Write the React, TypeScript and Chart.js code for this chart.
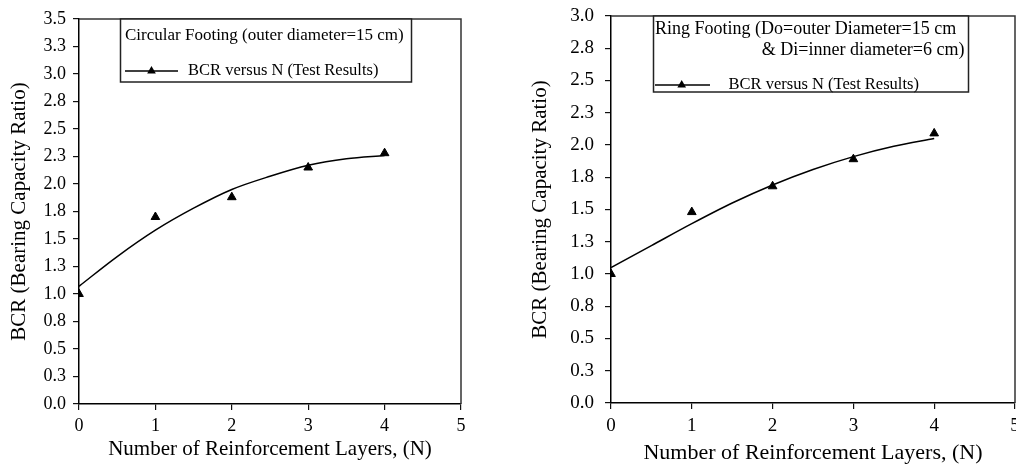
import React, { useEffect, useRef } from "react";
import { Chart, registerables } from "chart.js";

Chart.register(...registerables);

// ---------------- data ----------------
const xTickValues = [0, 1, 2, 3, 4, 5];
const xTickLabels = ["0", "1", "2", "3", "4", "5"];
const circularYTickLabels = ["0.0", "0.3", "0.5", "0.8", "1.0", "1.3", "1.5", "1.8", "2.0", "2.3", "2.5", "2.8", "3.0", "3.3", "3.5"];
const ringYTickLabels = ["0.0", "0.3", "0.5", "0.8", "1.0", "1.3", "1.5", "1.8", "2.0", "2.3", "2.5", "2.8", "3.0"];

const layersN = [0, 1, 2, 3, 4];
const circularBCR = [1.0, 1.7, 1.88, 2.15, 2.28];
const ringBCR = [1.0, 1.48, 1.68, 1.89, 2.09];

const fitN = [0, 0.5, 1, 1.5, 2, 2.5, 3, 3.5, 4];
const circularFitBCR = [1.07, 1.34, 1.58, 1.78, 1.95, 2.07, 2.17, 2.23, 2.26];
const ringFitBCR = [1.05, 1.22, 1.39, 1.55, 1.69, 1.81, 1.91, 1.99, 2.05];

const circularLegendTitle = ["Circular Footing (outer diameter=15 cm)"];
const ringLegendTitle = ["Ring Footing (Do=outer Diameter=15 cm", "& Di=inner diameter=6 cm)"];
const seriesLabel = "BCR versus N (Test Results)";
const xAxisTitle = "Number of Reinforcement Layers, (N)";
const yAxisTitle = "BCR (Bearing Capacity Ratio)";

const FONT = "'Liberation Serif', 'Times New Roman', 'DejaVu Serif', serif";

// ---------------- plugins ----------------
const frameBoxPlugin = {
  id: "frameBox",
  afterDraw(chart: any) {
    const { ctx, chartArea } = chart;
    ctx.save();
    ctx.strokeStyle = "#333";
    ctx.lineWidth = 1.5;
    ctx.beginPath();
    ctx.moveTo(chartArea.left, chartArea.top);
    ctx.lineTo(chartArea.right, chartArea.top);
    ctx.lineTo(chartArea.right, chartArea.bottom);
    ctx.stroke();
    ctx.restore();
  },
};

function drawTriangle(ctx: CanvasRenderingContext2D, x: number, y: number, r: number) {
  ctx.beginPath();
  for (let k = 0; k < 3; k++) {
    const a = (k * 2 * Math.PI) / 3;
    const px = x + Math.sin(a) * r;
    const py = y - Math.cos(a) * r;
    if (k === 0) ctx.moveTo(px, py);
    else ctx.lineTo(px, py);
  }
  ctx.closePath();
  ctx.fill();
}

const legendBoxPlugin = {
  id: "legendBox",
  afterDraw(chart: any, _args: any, o: any) {
    if (!o || !o.box) return;
    const ctx: CanvasRenderingContext2D = chart.ctx;
    ctx.save();
    ctx.fillStyle = "#fff";
    ctx.fillRect(o.box.x, o.box.y, o.box.w, o.box.h);
    ctx.strokeStyle = "#222";
    ctx.lineWidth = 1.5;
    ctx.strokeRect(o.box.x, o.box.y, o.box.w, o.box.h);
    ctx.fillStyle = "#000";
    ctx.textBaseline = "alphabetic";
    ctx.font = `${o.titleSize}px ${FONT}`;
    o.titleLines.forEach((ln: any, i: number) => {
      ctx.textAlign = ln.align;
      ctx.fillText(o.titleText[i], ln.x, ln.y);
    });
    // sample
    ctx.strokeStyle = "#000";
    ctx.lineWidth = 1.5;
    ctx.beginPath();
    ctx.moveTo(o.sample.x1, o.sample.y);
    ctx.lineTo(o.sample.x2, o.sample.y);
    ctx.stroke();
    drawTriangle(ctx, o.sample.mx, o.sample.y, 5);
    ctx.textAlign = "left";
    ctx.font = `${o.labelSize}px ${FONT}`;
    ctx.fillText(chart.data.datasets[0].label, o.label.x, o.label.y);
    ctx.restore();
  },
};

// ---------------- config ----------------
function buildConfig(p: any) {
  return {
    type: "scatter",
    data: {
      datasets: [
        {
          label: seriesLabel,
          data: layersN.map((x, i) => ({ x, y: p.bcr[i] })),
          showLine: false,
          pointStyle: "triangle",
          pointRadius: 5,
          pointBorderWidth: 1,
          pointBackgroundColor: "#000",
          pointBorderColor: "#000",
          borderColor: "#000",
          backgroundColor: "#000",
        },
        {
          label: "fit",
          data: fitN.map((x, i) => ({ x, y: p.fit[i] })),
          showLine: true,
          pointRadius: 0,
          borderColor: "#000",
          borderWidth: 1.5,
          tension: 0.4,
          cubicInterpolationMode: "monotone",
          fill: false,
        },
      ],
    },
    options: {
      animation: false,
      responsive: false,
      devicePixelRatio: 1,
      layout: { padding: p.padding },
      plugins: {
        legend: { display: false },
        tooltip: { enabled: false },
        legendBox: p.legend,
      },
      scales: {
        x: {
          type: "linear",
          min: 0,
          max: 5,
          afterBuildTicks: (s: any) => {
            s.ticks = xTickValues.map((v) => ({ value: v }));
          },
          ticks: {
            autoSkip: false,
            maxRotation: 0,
            color: "#000",
            padding: p.xTickPad,
            font: { family: FONT, size: p.tickSize },
            callback: (_v: any, i: number) => xTickLabels[i],
          },
          grid: { drawOnChartArea: false, drawTicks: true, tickLength: 6, color: "#111", lineWidth: 1.2 },
          border: { display: true, color: "#000", width: 1.5 },
          title: {
            display: true,
            text: xAxisTitle,
            color: "#000",
            font: { family: FONT, size: p.xTitleSize, lineHeight: 1 },
            padding: { top: 0, bottom: p.xTitlePad },
          },
          afterFit: (s: any) => {
            s.height = p.xHeight;
            s.paddingLeft = 0;
            s.paddingRight = 0;
          },
        },
        y: {
          type: "linear",
          min: 0,
          max: p.yMax,
          ticks: {
            stepSize: 0.25,
            autoSkip: false,
            color: "#000",
            padding: p.yTickPad,
            font: { family: FONT, size: p.tickSize },
            callback: (v: any) => p.yLabels[Math.round(Number(v) / 0.25)],
          },
          grid: { drawOnChartArea: false, drawTicks: true, tickLength: 6, color: "#111", lineWidth: 1.2 },
          border: { display: true, color: "#000", width: 1.5 },
          title: {
            display: true,
            text: yAxisTitle,
            color: "#000",
            font: { family: FONT, size: p.yTitleSize, lineHeight: 1 },
            padding: { top: p.yTitlePad, bottom: 0 },
          },
          afterFit: (s: any) => {
            s.width = p.yWidth;
            s.paddingTop = 0;
            s.paddingBottom = 0;
          },
        },
      },
    },
    plugins: [frameBoxPlugin, legendBoxPlugin],
  };
}

const circularPanel = {
  bcr: circularBCR,
  fit: circularFitBCR,
  yMax: 3.5,
  yLabels: circularYTickLabels,
  padding: { left: 0, top: 19, right: 39, bottom: 0 },
  yWidth: 79,
  xHeight: 61,
  tickSize: 18,
  yTickPad: 7,
  xTickPad: 5,
  xTitleSize: 21,
  xTitlePad: 5.5,
  yTitleSize: 21,
  yTitlePad: 9,
  legend: {
    box: { x: 120.5, y: 19, w: 291, h: 63 },
    titleText: circularLegendTitle,
    titleSize: 17,
    titleLines: [{ x: 125, y: 39.5, align: "left" }],
    sample: { x1: 125, x2: 178, y: 71, mx: 151.5 },
    labelSize: 16.5,
    label: { x: 188, y: 75 },
  },
};

const ringPanel = {
  bcr: ringBCR,
  fit: ringFitBCR,
  yMax: 3.0,
  yLabels: ringYTickLabels,
  padding: { left: 0, top: 16, right: 20, bottom: 0 },
  yWidth: 111,
  xHeight: 62,
  tickSize: 19,
  yTickPad: 11,
  xTickPad: 5.5,
  xTitleSize: 22,
  xTitlePad: 1,
  yTitleSize: 21,
  yTitlePad: 30,
  legend: {
    box: { x: 153.5, y: 16, w: 315, h: 76 },
    titleText: ringLegendTitle,
    titleSize: 18,
    titleLines: [
      { x: 155, y: 33.5, align: "left" },
      { x: 464.5, y: 55, align: "right" },
    ],
    sample: { x1: 155, x2: 210, y: 85, mx: 181.7 },
    labelSize: 16.5,
    label: { x: 228.5, y: 88.5 },
  },
};

function Panel({ spec, left, width }: { spec: any; left: number; width: number }) {
  const ref = useRef<HTMLCanvasElement | null>(null);
  useEffect(() => {
    if (!ref.current) return;
    const chart = new Chart(ref.current, buildConfig(spec) as any);
    return () => chart.destroy();
  }, [spec]);
  return (
    <canvas
      ref={ref}
      width={width}
      height={465}
      style={{ position: "absolute", left, top: 0, width, height: 465, display: "block" }}
    />
  );
}

export default function App() {
  return (
    <div style={{ position: "absolute", left: 0, top: 0, width: 1016, height: 465, background: "#fff", overflow: "hidden" }}>
      <Panel spec={circularPanel} left={0} width={500} />
      <Panel spec={ringPanel} left={500} width={535} />
    </div>
  );
}
